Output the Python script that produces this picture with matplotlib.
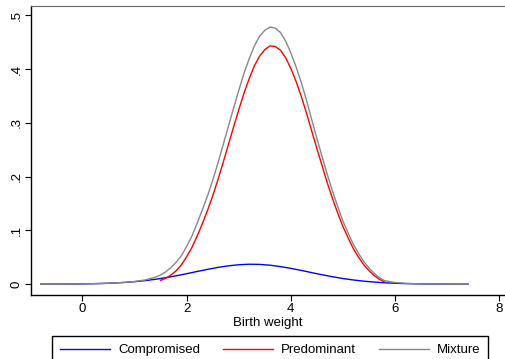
import numpy as np
import matplotlib
matplotlib.use("Agg")
import matplotlib.pyplot as plt
from matplotlib.lines import Line2D

plt.rcParams['font.family'] = ['Liberation Sans', 'DejaVu Sans']

# Densities
blue_x = np.round(np.linspace(-0.8, 7.4, 42), 1)
compromised = [0.00004, 0.00008, 0.00015, 0.00027, 0.00047, 0.0008, 0.0013, 0.002,
               0.0031, 0.0046, 0.0065, 0.009, 0.012, 0.0155, 0.0194, 0.0235,
               0.0274, 0.0311, 0.034, 0.036, 0.037, 0.0367, 0.0352, 0.0326,
               0.0293, 0.0255, 0.0214, 0.0174, 0.0137, 0.0104, 0.0077, 0.0055,
               0.0038, 0.0025, 0.0016, 0.001, 0.0006, 0.00036, 0.0002, 0.0001,
               0.00006, 0.00003]

red_x = np.round(np.linspace(1.5, 5.8, 44), 1)
predominant = [0.007, 0.011, 0.017, 0.025, 0.036, 0.051, 0.068, 0.089, 0.112, 0.137,
               0.164, 0.194, 0.226, 0.259, 0.292, 0.324, 0.355, 0.382, 0.406, 0.424,
               0.436, 0.443, 0.442, 0.435, 0.421, 0.401, 0.377, 0.349, 0.318, 0.285,
               0.252, 0.220, 0.188, 0.159, 0.132, 0.107, 0.086, 0.066, 0.050, 0.036,
               0.025, 0.016, 0.009, 0.004]

gray_x = np.concatenate([np.round(np.linspace(-0.8, 1.4, 12), 1),
                         red_x,
                         np.round(np.linspace(6.0, 7.4, 8), 1)])
mixture = [0.00004, 0.00008, 0.00015, 0.00027, 0.00047, 0.0008, 0.0013, 0.002,
           0.0032, 0.0049, 0.0077, 0.013,
           0.017, 0.023, 0.031, 0.041, 0.053, 0.070, 0.089, 0.113, 0.138, 0.164,
           0.193, 0.225, 0.259, 0.293, 0.327, 0.360, 0.392, 0.419, 0.443, 0.461,
           0.472, 0.478, 0.476, 0.468, 0.452, 0.430, 0.404, 0.375, 0.342, 0.306,
           0.271, 0.237, 0.204, 0.173, 0.144, 0.117, 0.095, 0.074, 0.057, 0.042,
           0.030, 0.020, 0.012, 0.0065,
           0.003, 0.0015, 0.0007, 0.0004, 0.0002, 0.0001, 0.00006, 0.00003]

xticks = [0, 2, 4, 6, 8]
yticks = [0, 0.1, 0.2, 0.3, 0.4, 0.5]
ytick_labels = ["0", ".1", ".2", ".3", ".4", ".5"]
labels = ["Compromised", "Predominant", "Mixture"]
colors = ["#0000ff", "#ff0000", "#888888"]

fig = plt.figure(figsize=(5.06, 3.59), dpi=100)
ax = fig.add_axes([0.061, 0.178, 0.937, 0.805])

ax.plot(blue_x, compromised, color=colors[0], lw=1.0)
ax.plot(red_x, predominant, color=colors[1], lw=1.0)
ax.plot(gray_x, mixture, color=colors[2], lw=1.0)

ax.set_xlim(-0.99, 8.11)
ax.set_ylim(-0.0204, 0.517)
ax.set_xticks(xticks)
ax.set_xticklabels([str(t) for t in xticks], fontsize=9.5)
ax.set_yticks(yticks)
ax.set_yticklabels(ytick_labels, fontsize=9.5, rotation=90, va='center')
ax.tick_params(length=4, width=0.8, color='black', pad=2)
ax.set_xlabel("Birth weight", fontsize=9.5, labelpad=1)

ax.spines['right'].set_visible(False)
ax.spines['top'].set_color('#666666')
ax.spines['left'].set_linewidth(1.0)
ax.spines['bottom'].set_linewidth(1.0)

handles = [Line2D([], [], color=c, lw=1.0) for c in colors]
fig.legend(handles, labels, loc='upper left', ncol=3, mode='expand',
           bbox_to_anchor=(0.103, -0.2, 0.862, 0.264), borderaxespad=0,
           fontsize=9.5, handlelength=3.8, handletextpad=0.6, borderpad=0.6,
           frameon=True, fancybox=False, edgecolor='black', framealpha=1)

fig.savefig("out.png", dpi=100)
